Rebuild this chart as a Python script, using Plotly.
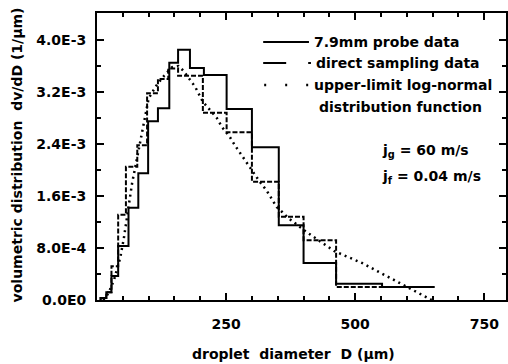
import plotly.graph_objects as go

# ---- data (D in micrometres, dv/dD in 1/micrometre) ----
probe_edges = [7, 18, 28, 41, 61, 80, 99, 118, 140, 157, 180, 207, 251, 300, 352, 400, 463, 552, 654]
probe_vals = [0.03e-3, 0.12e-3, 0.37e-3, 0.83e-3, 1.42e-3, 1.95e-3, 2.75e-3, 2.95e-3, 3.65e-3,
              3.85e-3, 3.57e-3, 3.46e-3, 2.94e-3, 2.35e-3, 1.15e-3, 0.57e-3, 0.25e-3, 0.20e-3]

direct_edges = [7, 18, 28, 41, 56, 78, 97, 118, 138, 157, 205, 251, 300, 352, 400, 463, 654]
direct_vals = [0.03e-3, 0.12e-3, 0.52e-3, 1.31e-3, 2.05e-3, 2.38e-3, 3.18e-3, 3.40e-3, 3.56e-3,
               3.45e-3, 2.88e-3, 2.58e-3, 1.82e-3, 1.28e-3, 0.92e-3, 0.20e-3]

ulln_D = [12, 22, 33, 45, 52, 60, 68, 78, 88, 100, 115, 130, 145, 158, 168, 176, 190, 205, 219,
          232, 242, 257, 267, 280, 290, 301, 315, 328, 338, 348, 359, 369, 405, 460, 513, 565, 610, 648]
ulln_v = [0.0, 0.10e-3, 0.31e-3, 0.65e-3, 0.95e-3, 1.40e-3, 1.80e-3, 2.20e-3, 2.60e-3, 3.10e-3,
          3.30e-3, 3.45e-3, 3.58e-3, 3.60e-3, 3.52e-3, 3.43e-3, 3.28e-3, 3.05e-3, 2.92e-3, 2.80e-3,
          2.66e-3, 2.51e-3, 2.38e-3, 2.23e-3, 2.11e-3, 1.97e-3, 1.82e-3, 1.69e-3, 1.57e-3, 1.43e-3,
          1.35e-3, 1.27e-3, 1.05e-3, 0.75e-3, 0.57e-3, 0.35e-3, 0.15e-3, 0.0]

x_tickvals = [250, 500, 750]
x_ticktext = ["250", "500", "750"]
y_tickvals = [0.0, 0.8e-3, 1.6e-3, 2.4e-3, 3.2e-3, 4.0e-3]
y_ticktext = ["0.0E0", "8.0E-4", "1.6E-3", "2.4E-3", "3.2E-3", "4.0E-3"]

legend_labels = ["7.9mm probe data", "direct sampling data", "upper-limit log-normal", "distribution function"]

FONT = "DejaVu Sans"
W, H = 508, 364
L, R, T, B = 97, 0, 13, 64


def px(xp):
    return (xp - L) / (W - L - R)


def py(yp):
    return (H - B - yp) / (H - B - T)


def step_xy(edges, vals):
    return list(edges), [0.0] + list(vals)


fig = go.Figure()

sx, sy = step_xy(probe_edges, probe_vals)
fig.add_trace(go.Scatter(x=sx, y=sy, mode="lines", line=dict(color="black", width=2, shape="vh"),
                         showlegend=False))
dx, dy = step_xy(direct_edges, direct_vals)
fig.add_trace(go.Scatter(x=dx, y=dy, mode="lines",
                         line=dict(color="black", width=2, shape="vh", dash="5px,2px"),
                         showlegend=False))
fig.add_trace(go.Scatter(x=ulln_D, y=ulln_v, mode="lines",
                         line=dict(color="black", width=2.5, dash="2px,4px"),
                         showlegend=False))

shapes = [
    dict(type="line", xref="paper", yref="paper", x0=px(264), x1=px(310), y0=py(42), y1=py(42),
         line=dict(color="black", width=2)),
    dict(type="line", xref="paper", yref="paper", x0=px(264), x1=px(312), y0=py(63), y1=py(63),
         line=dict(color="black", width=2, dash="23px,22px")),
    dict(type="line", xref="paper", yref="paper", x0=px(265), x1=px(311), y0=py(85), y1=py(85),
         line=dict(color="black", width=2.5, dash="2px,19px")),
]

tf = dict(family=FONT, size=14, color="black", weight="bold")
annotations = [
    dict(text=legend_labels[0], x=px(313), y=py(42)),
    dict(text=legend_labels[1], x=px(315), y=py(63)),
    dict(text=legend_labels[2], x=px(313), y=py(85)),
    dict(text=legend_labels[3], x=px(318), y=py(107)),
    dict(text="j<sub>g</sub> = 60 m/s", x=px(381), y=py(151)),
    dict(text="j<sub>f</sub> = 0.04 m/s", x=px(381), y=py(177)),
]
for a in annotations:
    a.update(xref="paper", yref="paper", xanchor="left", yanchor="middle", showarrow=False, font=tf)

annotations.append(dict(text="droplet  diameter  D (\u00b5m)", x=px(294), y=py(354), xref="paper", yref="paper",
                        xanchor="center", yanchor="middle", showarrow=False, font=tf))
annotations.append(dict(text="volumetric distribution  dv/dD (1/\u00b5m)", x=px(17), y=py(155), xref="paper",
                        yref="paper", xanchor="center", yanchor="middle", textangle=-90, showarrow=False,
                        font=tf))

fig.update_layout(
    width=W, height=H,
    margin=dict(l=L, r=R, t=T, b=B, pad=0),
    paper_bgcolor="white", plot_bgcolor="white",
    shapes=shapes, annotations=annotations,
    font=dict(family=FONT, size=14, color="black"),
)

fig.update_xaxes(range=[0, 792], tickvals=x_tickvals, ticktext=x_ticktext, ticks="inside", ticklen=7,
                 tickwidth=2, tickcolor="black", showline=True, linewidth=2, linecolor="black",
                 mirror="allticks", showgrid=False, zeroline=False, tickfont=tf, ticklabelstandoff=10,
                 minor=dict(dtick=50, tick0=0, ticks="inside", ticklen=4, tickwidth=1.5, tickcolor="black"))
fig.update_yaxes(range=[0, 4.415e-3], tickvals=y_tickvals, ticktext=y_ticktext, ticks="inside", ticklen=7,
                 tickwidth=2, tickcolor="black", showline=True, linewidth=2, linecolor="black",
                 mirror="allticks", showgrid=False, zeroline=False, tickfont=tf, ticklabelstandoff=6,
                 minor=dict(dtick=0.4e-3, tick0=0, ticks="inside", ticklen=4, tickwidth=1.5, tickcolor="black"))

fig.write_html("out.html")
